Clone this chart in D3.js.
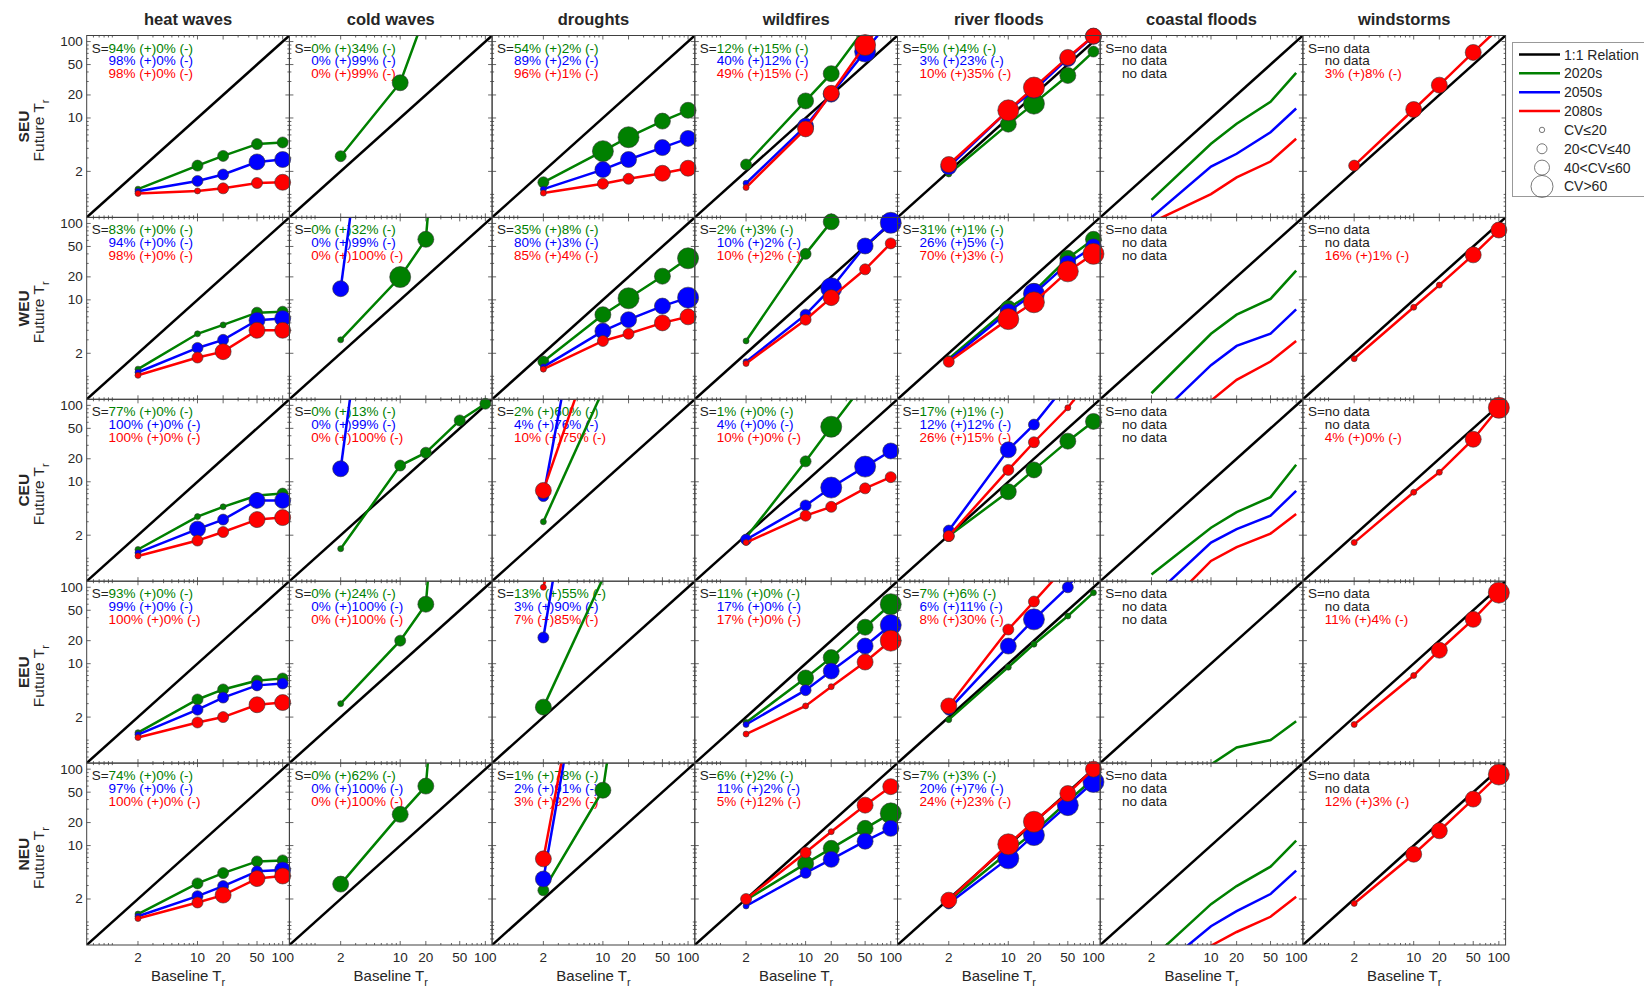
<!DOCTYPE html>
<html>
<head>
<meta charset="utf-8">
<script src="https://cdn.jsdelivr.net/npm/d3@7"></script>
<style>
  body { margin: 0; background: #fff; }
  text { font-family: Arial, "Liberation Sans", sans-serif; }
</style>
</head>
<body>
<svg id="chart" width="1644" height="990"></svg>
<script>
// ---- data ----
const baseTr = [2, 10, 20, 50, 100];
const regions = ['SEU', 'WEU', 'CEU', 'EEU', 'NEU'];
const periods = ['2020s', '2050s', '2080s'];
const cvLabels = ['CV\u226420', '20<CV\u226440', '40<CV\u226460', 'CV>60'];

// future return period per region -> [2020s, 2050s, 2080s] at baseline 2,10,20,50,100
const heatTr = [
  [[1.17, 2.38, 3.19, 4.55, 4.78], [1.1, 1.5, 1.82, 2.66, 2.86], [1.03, 1.11, 1.2, 1.41, 1.44]],
  [[1.24, 3.6, 4.7, 6.8, 7.0], [1.13, 2.35, 3.0, 5.4, 5.7], [1.03, 1.76, 2.1, 4.0, 4.0]],
  [[1.3, 3.5, 4.7, 6.6, 7.0], [1.18, 2.4, 3.2, 5.7, 5.7], [1.07, 1.7, 2.2, 3.2, 3.4]],
  [[1.25, 3.4, 4.6, 6.0, 6.4], [1.18, 2.5, 3.6, 5.2, 5.5], [1.08, 1.7, 2.0, 2.9, 3.1]],
  [[1.27, 3.2, 4.37, 6.2, 6.4], [1.19, 2.18, 2.95, 4.6, 4.8], [1.11, 1.8, 2.25, 3.7, 4.0]]
];
const heatCv = [
  [[1, 2, 2, 2, 2], [1, 2, 2, 3, 3], [1, 1, 2, 2, 3]],
  [[1, 1, 1, 2, 2], [1, 2, 2, 3, 3], [1, 2, 3, 3, 3]],
  [[1, 1, 1, 1, 2], [1, 3, 2, 3, 3], [1, 2, 2, 3, 3]],
  [[1, 2, 2, 2, 2], [1, 2, 2, 2, 2], [1, 2, 2, 3, 3]],
  [[1, 2, 2, 2, 2], [1, 2, 2, 2, 3], [1, 2, 3, 3, 3]]
];
const heatS = [
  ['94% (+)0% (-)', '98% (+)0% (-)', '98% (+)0% (-)'],
  ['83% (+)0% (-)', '94% (+)0% (-)', '98% (+)0% (-)'],
  ['77% (+)0% (-)', '100% (+)0% (-)', '100% (+)0% (-)'],
  ['93% (+)0% (-)', '99% (+)0% (-)', '100% (+)0% (-)'],
  ['74% (+)0% (-)', '97% (+)0% (-)', '100% (+)0% (-)']
];

const coldTr = [
  [[3.16, 28.9, 240, null, null], null, null],
  [[3.0, 19.9, 62, 1e7, null], [14, 1e7, null, null, null], null],
  [[1.33, 16.3, 24, 63.5, 105], [14.8, 1e7, null, null, null], null],
  [[3.0, 20, 60, 1e7, null], null, null],
  [[3.13, 25.6, 60, 1e7, null], null, null]
];
const coldCv = [
  [[2, 3, 3, 3, 3], null, null],
  [[1, 4, 3, 3, 3], [3, 3, 3, 3, 3], null],
  [[1, 2, 2, 2, 2], [3, 3, 3, 3, 3], null],
  [[1, 2, 3, 3, 3], null, null],
  [[3, 3, 3, 3, 3], null, null]
];
const coldS = [
  ['0% (+)34% (-)', '0% (+)99% (-)', '0% (+)99% (-)'],
  ['0% (+)32% (-)', '0% (+)99% (-)', '0% (+)100% (-)'],
  ['0% (+)13% (-)', '0% (+)99% (-)', '0% (+)100% (-)'],
  ['0% (+)24% (-)', '0% (+)100% (-)', '0% (+)100% (-)'],
  ['0% (+)62% (-)', '0% (+)100% (-)', '0% (+)100% (-)']
];

const droughtTr = [
  [[1.44, 3.68, 5.6, 9.1, 12.6], [1.17, 2.11, 2.86, 4.1, 5.4], [1.04, 1.38, 1.6, 1.89, 2.2]],
  [[1.56, 6.4, 10.5, 20.4, 35], [1.33, 3.9, 5.5, 8.3, 10.7], [1.24, 2.9, 3.6, 5.0, 6.0]],
  [[3.0, 157, null, null, null], [6.5, 1e5, null, null, null], [7.7, 1370, null, null, null]],
  [[2.7, 130, null, null, null], [22, 1e6, null, null, null], [100, 1e5, null, null, null]],
  [[2.6, 53, 1e4, null, null], [3.65, 1e5, null, null, null], [6.7, 1e5, null, null, null]]
];
const droughtCv = [
  [[2, 4, 4, 3, 3], [1, 3, 3, 3, 3], [1, 2, 2, 3, 3]],
  [[2, 3, 4, 3, 4], [1, 3, 3, 3, 4], [1, 2, 2, 3, 3]],
  [[1, 3, 3, 3, 3], [2, 3, 3, 3, 3], [3, 3, 3, 3, 3]],
  [[3, 3, 3, 3, 3], [2, 3, 3, 3, 3], [1, 3, 3, 3, 3]],
  [[2, 3, 3, 3, 3], [3, 3, 3, 3, 3], [3, 3, 3, 3, 3]]
];
const droughtS = [
  ['54% (+)2% (-)', '89% (+)2% (-)', '96% (+)1% (-)'],
  ['35% (+)8% (-)', '80% (+)3% (-)', '85% (+)4% (-)'],
  ['2% (+)60% (-)', '4% (+)76% (-)', '10% (+)75% (-)'],
  ['13% (+)55% (-)', '3% (+)90% (-)', '7% (+)85% (-)'],
  ['1% (+)78% (-)', '2% (+)91% (-)', '3% (+)92% (-)']
];

const fireTr = [
  [[2.46, 16.7, 38, 150, null], [1.4, 7.8, 20.5, 74, 200], [1.23, 7.2, 21, 90, 250]],
  [[2.9, 40, 105, 1000, null], [1.55, 6.4, 14.2, 50.7, 102], [1.47, 5.5, 10.7, 25.1, 54.8]],
  [[1.86, 18.5, 52.5, 200, null], [1.75, 4.9, 8.4, 15.8, 25.3], [1.6, 3.6, 4.7, 8.2, 11.5]],
  [[1.7, 6.5, 12, 30, 60], [1.6, 4.5, 8, 17, 32], [1.2, 2.8, 5, 10.5, 20]],
  [[1.94, 5.8, 9.2, 16.8, 26.4], [1.62, 4.4, 6.6, 11.4, 16.8], [2.0, 8.1, 15.2, 33.8, 59]]
];
const fireCv = [
  [[2, 3, 3, 3, 3], [1, 3, 3, 4, 4], [1, 3, 3, 4, 4]],
  [[1, 2, 3, 3, 3], [1, 2, 4, 3, 4], [1, 2, 3, 2, 2]],
  [[1, 2, 4, 4, 4], [2, 2, 4, 4, 3], [1, 2, 2, 2, 2]],
  [[1, 3, 3, 3, 4], [1, 2, 3, 3, 4], [1, 1, 1, 3, 4]],
  [[1, 3, 3, 3, 4], [1, 2, 3, 3, 3], [2, 2, 1, 3, 3]]
];
const fireS = [
  ['12% (+)15% (-)', '40% (+)12% (-)', '49% (+)15% (-)'],
  ['2% (+)3% (-)', '10% (+)2% (-)', '10% (+)2% (-)'],
  ['1% (+)0% (-)', '4% (+)0% (-)', '10% (+)0% (-)'],
  ['11% (+)0% (-)', '17% (+)0% (-)', '17% (+)0% (-)'],
  ['6% (+)2% (-)', '11% (+)2% (-)', '5% (+)12% (-)']
];

const riverTr = [
  [[1.85, 8.3, 15.4, 36, 74], [2.3, 12.6, 23, 60, 117], [2.46, 12.6, 25, 62, 118]],
  [[1.7, 7.7, 12.9, 35, 62], [1.6, 7, 12, 30, 49.5], [1.55, 5.6, 9.3, 23.6, 40]],
  [[1.95, 7.4, 14.3, 34, 61.6], [2.3, 26.2, 56, 200, null], [1.95, 14.3, 32.9, 93, 250]],
  [[1.85, 9, 18, 42, 85], [2.5, 17, 38, 100, 300], [2.8, 28, 65, 200, null]],
  [[1.9, 8.2, 15, 38, 75], [1.75, 6.8, 13.7, 33.8, 68], [1.93, 10.4, 20.5, 48, 100]]
];
const riverCv = [
  [[1, 3, 4, 3, 2], [3, 3, 3, 3, 3], [3, 4, 4, 3, 3]],
  [[1, 3, 3, 3, 3], [1, 3, 4, 3, 3], [2, 4, 4, 4, 4]],
  [[2, 3, 3, 3, 3], [2, 3, 2, 2, 2], [2, 2, 2, 1, 1]],
  [[1, 1, 1, 1, 1], [2, 3, 4, 2, 2], [3, 2, 2, 2, 2]],
  [[1, 2, 2, 2, 2], [2, 4, 4, 4, 4], [3, 4, 4, 3, 3]]
];
const riverS = [
  ['5% (+)4% (-)', '3% (+)23% (-)', '10% (+)35% (-)'],
  ['31% (+)1% (-)', '26% (+)5% (-)', '70% (+)3% (-)'],
  ['17% (+)1% (-)', '12% (+)12% (-)', '26% (+)15% (-)'],
  ['7% (+)6% (-)', '6% (+)11% (-)', '8% (+)30% (-)'],
  ['7% (+)3% (-)', '20% (+)7% (-)', '24% (+)23% (-)']
];

// coastal floods: lines only, no CV
const coastTr = [
  [[0.85, 4.6, 8.4, 16.3, 39], [0.5, 2.31, 3.4, 6.5, 13.3], [0.43, 1.01, 1.67, 2.69, 5.35]],
  [[0.6, 3.6, 6.4, 10.3, 24.2], [0.25, 1.4, 2.5, 3.6, 7.5], [0.1, 0.48, 0.9, 1.56, 2.9]],
  [[0.61, 2.5, 4.0, 6.3, 16.7], [0.3, 1.6, 2.4, 3.6, 7.6], [0.15, 0.92, 1.4, 2.1, 3.8]],
  [[0.1, 0.48, 0.8, 1.0, 1.77], null, null],
  [[0.33, 1.71, 2.95, 5.3, 11.6], [0.2, 0.88, 1.39, 2.32, 4.7], [0.1, 0.49, 0.74, 1.17, 2.14]]
];
const coastS = [
  ['no data', 'no data', 'no data'],
  ['no data', 'no data', 'no data'],
  ['no data', 'no data', 'no data'],
  ['no data', 'no data', 'no data'],
  ['no data', 'no data', 'no data']
];

const windTr = [
  [null, null, [2.38, 12.9, 26.9, 72, 150]],
  [null, null, [1.7, 8, 15.6, 38.8, 82]],
  [null, null, [1.6, 7.3, 13.3, 36, 93]],
  [null, null, [1.6, 7, 15, 38, 85]],
  [null, null, [1.75, 7.7, 15.6, 40.6, 85]]
];
const windCv = [
  [null, null, [2, 3, 3, 3, 3]],
  [null, null, [1, 1, 1, 3, 3]],
  [null, null, [1, 1, 1, 3, 4]],
  [null, null, [1, 1, 3, 3, 4]],
  [null, null, [1, 3, 3, 3, 4]]
];
const windS = [
  ['no data', 'no data', '3% (+)8% (-)'],
  ['no data', 'no data', '16% (+)1% (-)'],
  ['no data', 'no data', '4% (+)0% (-)'],
  ['no data', 'no data', '11% (+)4% (-)'],
  ['no data', 'no data', '12% (+)3% (-)']
];

const hazards = [
  { name: 'heat waves', tr: heatTr, cv: heatCv, s: heatS },
  { name: 'cold waves', tr: coldTr, cv: coldCv, s: coldS },
  { name: 'droughts', tr: droughtTr, cv: droughtCv, s: droughtS },
  { name: 'wildfires', tr: fireTr, cv: fireCv, s: fireS },
  { name: 'river floods', tr: riverTr, cv: riverCv, s: riverS },
  { name: 'coastal floods', tr: coastTr, cv: null, s: coastS },
  { name: 'windstorms', tr: windTr, cv: windCv, s: windS }
];

// ---- layout ----
const padLeft = 86.7, padTop = 35.5, pw = 202.7, ph = 181.9;
const colors = ['#008000', '#0000ff', '#ff0000'];
const radius = [0, 3, 5.5, 8, 10.5];
const axisColor = '#404040';
const majorTicks = [2, 10, 20, 50, 100];
const minorTicks = [0.6, 0.7, 0.8, 0.9, 1, 3, 4, 5, 6, 7, 8, 9, 30, 40, 60, 70, 80, 90];
const statSize = '13.5px';

const svg = d3.select('#chart');
const x = d3.scaleLog().domain([0.5, 120]).range([0, pw]);
const y = d3.scaleLog().domain([0.5, 120]).range([ph, 0]);

svg.append('defs').append('clipPath').attr('id', 'panelclip')
  .append('rect').attr('width', pw).attr('height', ph);

const line = d3.line()
  .defined(d => d.v != null)
  .x(d => x(d.b))
  .y(d => y(d.v));

// width of the "S=" prefix so the colored lines line up
const probe = svg.append('text').style('font-size', statSize).text('S=');
const prefixW = probe.node().getComputedTextLength();
probe.remove();

regions.forEach((reg, r) => {
  hazards.forEach((hz, c) => {
    const g = svg.append('g')
      .attr('transform', `translate(${padLeft + c * pw},${padTop + r * ph})`);

    // ticks on all four sides
    const tk = g.append('g').attr('stroke', axisColor).attr('stroke-width', 0.8);
    [[majorTicks, 4], [minorTicks, 2]].forEach(([vals, len]) => {
      vals.forEach(v => {
        tk.append('line').attr('x1', x(v)).attr('x2', x(v)).attr('y1', ph).attr('y2', ph - len);
        tk.append('line').attr('x1', x(v)).attr('x2', x(v)).attr('y1', 0).attr('y2', len);
        tk.append('line').attr('y1', y(v)).attr('y2', y(v)).attr('x1', 0).attr('x2', len);
        tk.append('line').attr('y1', y(v)).attr('y2', y(v)).attr('x1', pw).attr('x2', pw - len);
      });
    });

    // 1:1 relation
    g.append('line')
      .attr('clip-path', 'url(#panelclip)')
      .attr('x1', x(0.5)).attr('y1', y(0.5))
      .attr('x2', x(120)).attr('y2', y(120))
      .attr('stroke', '#000').attr('stroke-width', 2.5);

    // S= statistics
    hz.s[r].forEach((str, p) => {
      const t = g.append('text')
        .attr('x', 5).attr('y', 17 + p * 12.8)
        .style('font-size', statSize);
      if (p === 0) t.append('tspan').attr('fill', '#222').text('S=');
      else t.attr('x', 5 + prefixW);
      t.append('tspan')
        .attr('fill', str === 'no data' ? '#222' : colors[p])
        .text(str);
    });

    // series
    periods.forEach((per, p) => {
      const vals = hz.tr[r][p];
      if (!vals) return;
      const pts = baseTr.map((b, i) => ({ b: b, v: vals[i], cv: hz.cv ? hz.cv[r][p][i] : 0 }));
      g.append('path').datum(pts)
        .attr('clip-path', 'url(#panelclip)')
        .attr('d', line)
        .attr('fill', 'none')
        .attr('stroke', colors[p])
        .attr('stroke-width', 2.5);
      if (hz.cv) {
        g.append('g').selectAll('circle')
          .data(pts.filter(d => d.v != null && d.v >= 0.5 && d.v <= 120))
          .join('circle')
          .attr('cx', d => x(d.b))
          .attr('cy', d => y(d.v))
          .attr('r', d => radius[d.cv])
          .attr('fill', colors[p])
          .attr('stroke', '#333')
          .attr('stroke-width', 0.6);
      }
    });

    g.append('rect')
      .attr('width', pw).attr('height', ph)
      .attr('fill', 'none').attr('stroke', axisColor).attr('stroke-width', 1);

    // y tick labels on the first column
    if (c === 0) {
      g.selectAll('.ylab').data(majorTicks).join('text')
        .attr('x', -4).attr('y', d => y(d) + 4.5)
        .attr('text-anchor', 'end')
        .attr('fill', '#262626')
        .style('font-size', '13.5px')
        .text(d => d);
    }
    // x tick labels on the last row
    if (r === regions.length - 1) {
      g.selectAll('.xlab').data(majorTicks).join('text')
        .attr('x', d => x(d)).attr('y', ph + 17)
        .attr('text-anchor', 'middle')
        .attr('fill', '#262626')
        .style('font-size', '13.5px')
        .text(d => d);
      const xl = g.append('text')
        .attr('x', pw / 2).attr('y', ph + 36)
        .attr('text-anchor', 'middle')
        .attr('fill', '#262626')
        .style('font-size', '15px');
      xl.append('tspan').text('Baseline T');
      xl.append('tspan').attr('dy', 5).style('font-size', '11px').text('r');
    }
    // hazard titles
    if (r === 0) {
      g.append('text')
        .attr('x', pw / 2).attr('y', -11)
        .attr('text-anchor', 'middle')
        .attr('fill', '#262626')
        .style('font-size', '16.5px').style('font-weight', 'bold')
        .text(hz.name);
    }
  });

  // row labels
  const cy = padTop + r * ph + ph / 2;
  svg.append('text')
    .attr('transform', `translate(28.5,${cy}) rotate(-90)`)
    .attr('text-anchor', 'middle')
    .attr('fill', '#262626')
    .style('font-size', '15.5px').style('font-weight', 'bold')
    .text(reg);
  const fl = svg.append('text')
    .attr('transform', `translate(44,${cy + 4}) rotate(-90)`)
    .attr('text-anchor', 'middle')
    .attr('fill', '#262626')
    .style('font-size', '15.5px');
  fl.append('tspan').text('Future T');
  fl.append('tspan').attr('dy', 5).style('font-size', '11px').text('r');
});

// ---- legend ----
const lg = svg.append('g').attr('transform', 'translate(1512.5,42.5)');
lg.append('rect').attr('width', 140).attr('height', 154)
  .attr('fill', '#fff').attr('stroke', '#999').attr('stroke-width', 1);
const lineItems = [{ label: '1:1 Relation', color: '#000' }]
  .concat(periods.map((p, i) => ({ label: p, color: colors[i] })));
lineItems.forEach((d, i) => {
  const ly = 12 + i * 18.85;
  lg.append('line').attr('x1', 6.5).attr('x2', 47.5).attr('y1', ly).attr('y2', ly)
    .attr('stroke', d.color).attr('stroke-width', 2.5);
  lg.append('text').attr('x', 51.5).attr('y', ly + 5)
    .attr('fill', '#262626').style('font-size', '14px').text(d.label);
});
const legendR = [2.7, 5, 7.5, 11];
cvLabels.forEach((lab, i) => {
  const ly = 12 + (i + 4) * 18.85;
  lg.append('circle').attr('cx', 29.5).attr('cy', ly).attr('r', legendR[i])
    .attr('fill', 'none').attr('stroke', '#555').attr('stroke-width', 0.8);
  lg.append('text').attr('x', 51.5).attr('y', ly + 5)
    .attr('fill', '#262626').style('font-size', '14px').text(lab);
});
</script>
</body>
</html>
